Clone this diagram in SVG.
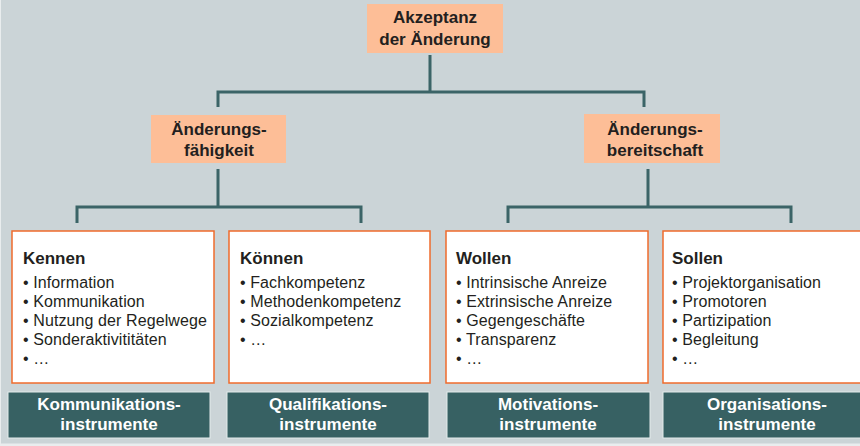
<svg xmlns="http://www.w3.org/2000/svg" width="860" height="446" viewBox="0 0 860 446">
<style>
.bg{fill:#cbd4d7}
.conn{fill:none;stroke:#3b6467;stroke-width:3;stroke-linejoin:miter}
.peach{fill:#fdbe97}
.card{fill:#ffffff;stroke:#ef6b2c;stroke-width:1.5}
.inst{fill:#376163;stroke:#e4ebec;stroke-width:1}
.hb{font-family:"Liberation Sans",Arial,sans-serif;font-weight:bold;font-size:17px;fill:#231f20}
.hc{text-anchor:middle}
.it{font-family:"Liberation Sans",Arial,sans-serif;font-size:16px;letter-spacing:0.1px;fill:#231f20}
.wt{font-family:"Liberation Sans",Arial,sans-serif;font-weight:bold;font-size:17px;fill:#ffffff;text-anchor:middle}
</style>
<rect x="0" y="0" width="860" height="446" fill="#e9edee"/>
<rect class="bg" x="1" y="0" width="859" height="443.5"/>
<g id="connectors">
<path class="conn" d="M430,55 V92 M218,107 V92 H644 V107"/>
<path class="conn" d="M218,169 V207 M77,223 V207 H361 V223"/>
<path class="conn" d="M648,169 V207 M508,223 V207 H791 V223"/>
</g>
<g id="akzeptanz">
<rect class="peach" x="367" y="4" width="136" height="49"/>
<text class="hb hc" x="435" y="23">Akzeptanz</text>
<text class="hb hc" x="435" y="45">der Änderung</text>
</g>
<g id="faehigkeit">
<rect class="peach" x="151" y="115" width="135" height="48"/>
<text class="hb hc" x="219" y="135">Änderungs-</text>
<text class="hb hc" x="219" y="156">fähigkeit</text>
</g>
<g id="bereitschaft">
<rect class="peach" x="584" y="114" width="136" height="49"/>
<text class="hb hc" x="655" y="135">Änderungs-</text>
<text class="hb hc" x="655" y="156">bereitschaft</text>
</g>
<g id="kennen">
<rect class="card" x="12" y="231" width="202" height="152"/>
<text class="hb" x="23" y="264">Kennen</text>
<text class="it" x="23" y="288">• Information</text>
<text class="it" x="23" y="307">• Kommunikation</text>
<text class="it" x="23" y="326">• Nutzung der Regelwege</text>
<text class="it" x="23" y="345">• Sonderaktivititäten</text>
<text class="it" x="23" y="364">• …</text>
</g>
<g id="koennen">
<rect class="card" x="229" y="231" width="201" height="152"/>
<text class="hb" x="240" y="264">Können</text>
<text class="it" x="240" y="288">• Fachkompetenz</text>
<text class="it" x="240" y="307">• Methodenkompetenz</text>
<text class="it" x="240" y="326">• Sozialkompetenz</text>
<text class="it" x="240" y="345">• …</text>
</g>
<g id="wollen">
<rect class="card" x="446" y="231" width="202" height="152"/>
<text class="hb" x="456" y="264">Wollen</text>
<text class="it" x="456" y="288">• Intrinsische Anreize</text>
<text class="it" x="456" y="307">• Extrinsische Anreize</text>
<text class="it" x="456" y="326">• Gegengeschäfte</text>
<text class="it" x="456" y="345">• Transparenz</text>
<text class="it" x="456" y="364">• …</text>
</g>
<g id="sollen">
<rect class="card" x="663" y="231" width="210" height="152"/>
<text class="hb" x="672" y="264">Sollen</text>
<text class="it" x="672" y="288">• Projektorganisation</text>
<text class="it" x="672" y="307">• Promotoren</text>
<text class="it" x="672" y="326">• Partizipation</text>
<text class="it" x="672" y="345">• Begleitung</text>
<text class="it" x="672" y="364">• …</text>
</g>
<g id="kommunikationsinstrumente">
<rect class="inst" x="8" y="392" width="202" height="46"/>
<text class="wt" x="109" y="410">Kommunikations-</text>
<text class="wt" x="109" y="430">instrumente</text>
</g>
<g id="qualifikationsinstrumente">
<rect class="inst" x="227" y="392" width="202" height="46"/>
<text class="wt" x="328" y="410">Qualifikations-</text>
<text class="wt" x="328" y="430">instrumente</text>
</g>
<g id="motivationsinstrumente">
<rect class="inst" x="447" y="392" width="203" height="46"/>
<text class="wt" x="548" y="410">Motivations-</text>
<text class="wt" x="548" y="430">instrumente</text>
</g>
<g id="organisationsinstrumente">
<rect class="inst" x="663" y="392" width="210" height="46"/>
<text class="wt" x="767" y="410">Organisations-</text>
<text class="wt" x="767" y="430">instrumente</text>
</g>
</svg>
